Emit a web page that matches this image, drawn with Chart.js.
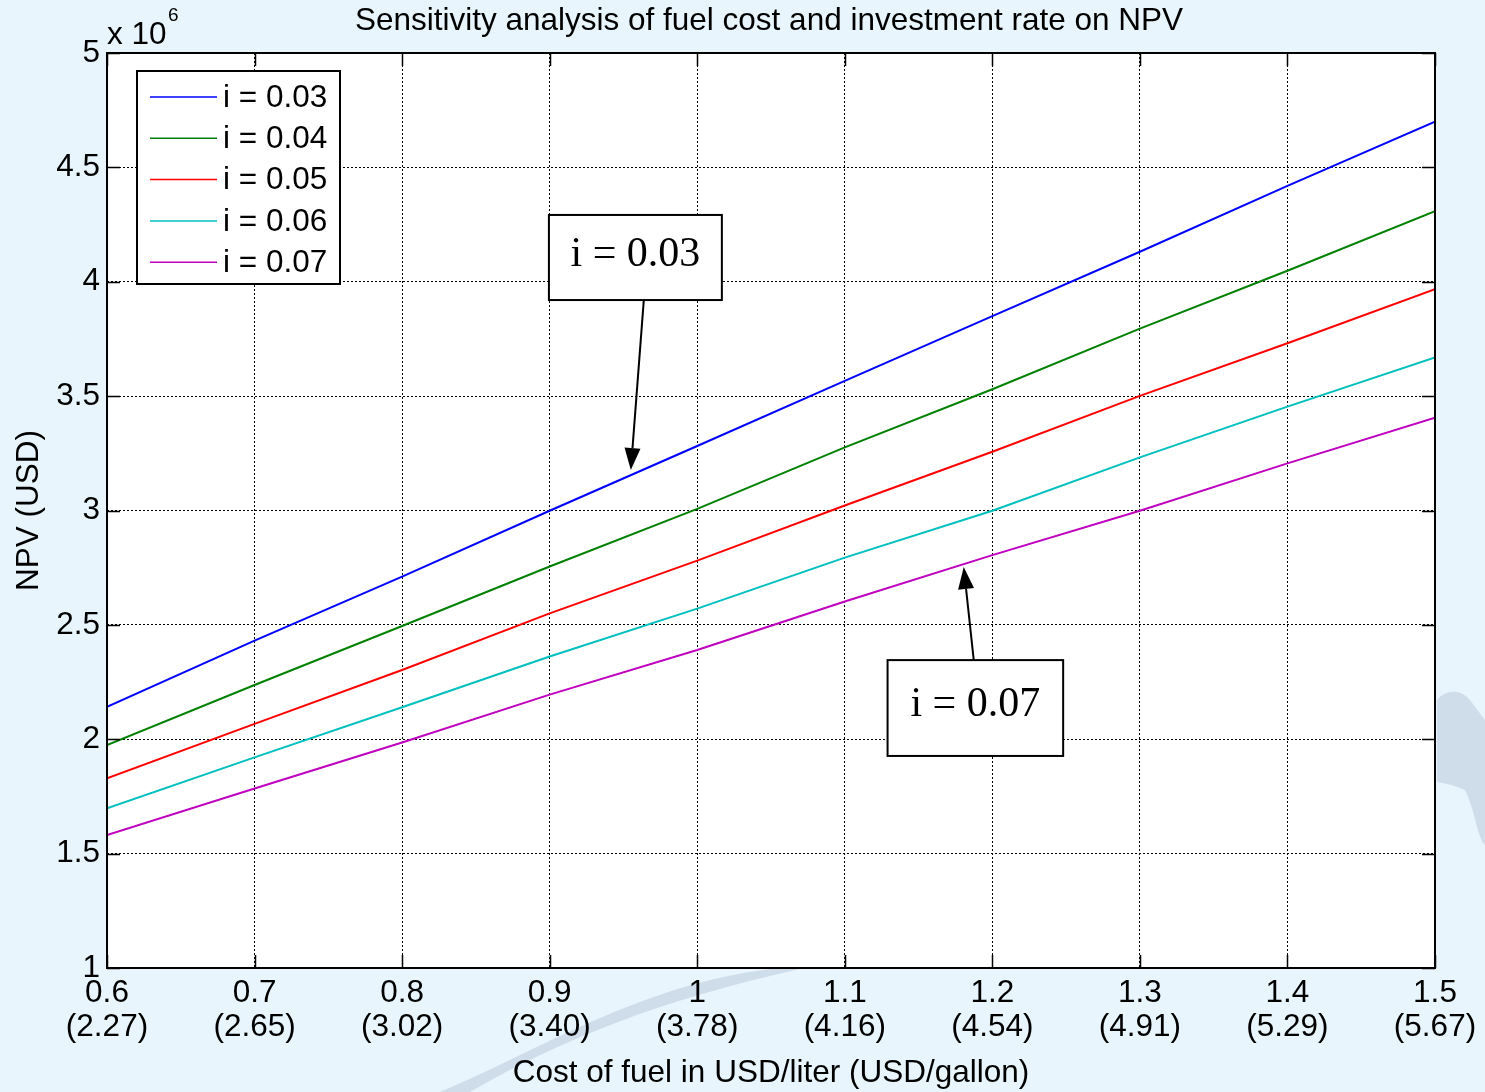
<!DOCTYPE html>
<html><head><meta charset="utf-8">
<script src="https://cdn.jsdelivr.net/npm/chart.js@4"></script>
<style>
html,body{margin:0;padding:0;background:#e9f5fd;overflow:hidden}
#wrap{width:1485px;height:1092px;position:relative}
canvas{display:block}
</style>
</head><body><div id="wrap"><canvas id="c" width="1485" height="1092"></canvas></div>
<script>
// ---- data ----
const fuelCost = [0.6, 0.7, 0.8, 0.9, 1.0, 1.1, 1.2, 1.3, 1.4, 1.5];
const literLabels = ['0.6', '0.7', '0.8', '0.9', '1', '1.1', '1.2', '1.3', '1.4', '1.5'];
const gallonLabels = ['(2.27)', '(2.65)', '(3.02)', '(3.40)', '(3.78)', '(4.16)', '(4.54)', '(4.91)', '(5.29)', '(5.67)'];
const seriesNames = ['i = 0.03', 'i = 0.04', 'i = 0.05', 'i = 0.06', 'i = 0.07'];
const npv003 = [2.142, 2.431, 2.711, 2.999, 3.282, 3.567, 3.850, 4.131, 4.419, 4.700];
const npv004 = [1.975, 2.237, 2.495, 2.755, 3.007, 3.276, 3.530, 3.795, 4.048, 4.309];
const npv005 = [1.829, 2.067, 2.303, 2.550, 2.781, 3.022, 3.257, 3.501, 3.731, 3.967];
const npv006 = [1.698, 1.921, 2.140, 2.362, 2.571, 2.794, 2.999, 3.232, 3.454, 3.669];
const npv007 = [1.581, 1.785, 1.986, 2.195, 2.390, 2.602, 2.805, 2.999, 3.206, 3.406];
const yTicks = [1, 1.5, 2, 2.5, 3, 3.5, 4, 4.5, 5];
const yTickLabels = ['1', '1.5', '2', '2.5', '3', '3.5', '4', '4.5', '5'];
// annotations (data coordinates): box x1,x2,y1,y2 ; arrow from -> to
const callout003 = {text: 'i = 0.03', box: [0.8995, 1.0167, 4.292, 3.92], from: [0.9638, 3.92], to: [0.955, 3.177]};
const callout007 = {text: 'i = 0.07', box: [1.129, 1.248, 2.346, 1.927], from: [1.1874, 2.346], to: [1.1806, 2.753]};

const colors = ['#0000ff', '#008000', '#ff0000', '#00bfbf', '#bf00bf'];
const allSeries = [npv003, npv004, npv005, npv006, npv007];

const FONT = '"Liberation Sans", Arial, sans-serif';
const FS = 31.5;

const decor = {
  id: 'decor',
  beforeDraw(chart) {
    const {ctx, chartArea: a} = chart;
    ctx.save();
    ctx.fillStyle = '#e9f5fd';
    ctx.fillRect(0, 0, chart.width, chart.height);
    // faint watermark shapes
    ctx.fillStyle = 'rgba(190,205,222,0.6)';
    ctx.beginPath();
    ctx.moveTo(1437, 700); ctx.bezierCurveTo(1445, 690, 1460, 688, 1470, 700);
    ctx.lineTo(1485, 720); ctx.lineTo(1485, 845);
    ctx.bezierCurveTo(1478, 840, 1475, 810, 1465, 790);
    ctx.lineTo(1452, 785); ctx.lineTo(1437, 782); ctx.closePath(); ctx.fill();
    ctx.beginPath();
    ctx.moveTo(470, 1092); ctx.bezierCurveTo(560, 1040, 660, 1000, 800, 969);
    ctx.lineTo(770, 969); ctx.bezierCurveTo(640, 985, 540, 1050, 440, 1092); ctx.closePath(); ctx.fill();
    ctx.fillStyle = '#ffffff';
    ctx.fillRect(a.left, a.top, a.right - a.left, a.bottom - a.top);
    ctx.restore();
  },
  afterDatasetsDraw(chart) {
    const {ctx, chartArea: a, scales: {x, y}} = chart;
    ctx.save();
    // inner tick marks
    ctx.strokeStyle = '#000'; ctx.lineWidth = 1.5;
    yTicks.forEach(v => {
      const py = Math.round(y.getPixelForValue(v)) + 0.5;
      ctx.beginPath(); ctx.moveTo(a.left, py); ctx.lineTo(a.left + 13, py);
      ctx.moveTo(a.right, py); ctx.lineTo(a.right - 13, py); ctx.stroke();
    });
    fuelCost.forEach(v => {
      const px = Math.round(x.getPixelForValue(v)) + 0.5;
      ctx.beginPath(); ctx.moveTo(px, a.bottom); ctx.lineTo(px, a.bottom - 13);
      ctx.moveTo(px, a.top); ctx.lineTo(px, a.top + 13); ctx.stroke();
    });
    // box
    ctx.lineWidth = 2;
    ctx.strokeRect(a.left, a.top, a.right - a.left, a.bottom - a.top);

    // legend
    const lx = 137, ly = 71, lw = 203, lh = 213;
    ctx.fillStyle = '#fff'; ctx.fillRect(lx, ly, lw, lh);
    ctx.strokeStyle = '#000'; ctx.lineWidth = 2; ctx.strokeRect(lx, ly, lw, lh);
    ctx.font = FS + 'px ' + FONT; ctx.textBaseline = 'middle'; ctx.textAlign = 'left';
    seriesNames.forEach((n, i) => {
      const yy = 97 + i * 41.3;
      ctx.strokeStyle = colors[i]; ctx.lineWidth = 1.5;
      ctx.beginPath(); ctx.moveTo(150, yy); ctx.lineTo(217, yy); ctx.stroke();
      ctx.fillStyle = '#000'; ctx.fillText(n, 223, yy + 1);
    });

    // callouts
    [callout003, callout007].forEach(c => {
      const x1 = x.getPixelForValue(c.box[0]), x2 = x.getPixelForValue(c.box[1]);
      const y1 = y.getPixelForValue(c.box[2]), y2 = y.getPixelForValue(c.box[3]);
      ctx.fillStyle = '#fff'; ctx.fillRect(x1, y1, x2 - x1, y2 - y1);
      ctx.strokeStyle = '#000'; ctx.lineWidth = 2; ctx.strokeRect(x1, y1, x2 - x1, y2 - y1);
      ctx.fillStyle = '#000'; ctx.font = '42px "Liberation Serif", "Times New Roman", serif';
      ctx.textAlign = 'center'; ctx.textBaseline = 'middle';
      ctx.fillText(c.text, (x1 + x2) / 2, (y1 + y2) / 2 - 3);
      const fx = x.getPixelForValue(c.from[0]), fy = y.getPixelForValue(c.from[1]);
      const tx = x.getPixelForValue(c.to[0]), ty = y.getPixelForValue(c.to[1]);
      const ang = Math.atan2(ty - fy, tx - fx);
      const hl = 22, hw = 8;
      const bx = tx - hl * Math.cos(ang), by = ty - hl * Math.sin(ang);
      ctx.lineWidth = 2;
      ctx.beginPath(); ctx.moveTo(fx, fy); ctx.lineTo(bx, by); ctx.stroke();
      ctx.beginPath(); ctx.moveTo(tx, ty);
      ctx.lineTo(bx + hw * Math.sin(ang), by - hw * Math.cos(ang));
      ctx.lineTo(bx - hw * Math.sin(ang), by + hw * Math.cos(ang));
      ctx.closePath(); ctx.fill();
    });

    // title & exponent
    ctx.fillStyle = '#000'; ctx.textAlign = 'center'; ctx.textBaseline = 'middle';
    ctx.font = FS + 'px ' + FONT;
    ctx.fillText('Sensitivity analysis of fuel cost and investment rate on NPV', (a.left + a.right) / 2 - 2, 21);
    ctx.textAlign = 'left';
    ctx.fillText('x 10', 107, 35);
    ctx.font = '19px ' + FONT;
    ctx.fillText('6', 168, 16);
    ctx.restore();
  }
};

new Chart(document.getElementById('c'), {
  type: 'line',
  data: {
    datasets: allSeries.map((s, i) => ({
      label: seriesNames[i],
      data: s.map((v, k) => ({x: fuelCost[k], y: v})),
      borderColor: colors[i],
      borderWidth: 2,
      pointRadius: 0,
      tension: 0,
      fill: false
    }))
  },
  options: {
    responsive: false,
    animation: false,
    devicePixelRatio: 1,
    layout: {padding: {top: 53, right: 50, left: 0, bottom: 0}},
    plugins: {legend: {display: false}, title: {display: false}, tooltip: {enabled: false}},
    scales: {
      x: {
        type: 'linear', min: 0.6, max: 1.5,
        afterBuildTicks(s) { s.ticks = fuelCost.map(v => ({value: v})); },
        afterFit(s) { s.height = 124; },
        ticks: {
          color: '#000', padding: 8, maxRotation: 0, autoSkip: false,
          font: {family: FONT, size: FS, lineHeight: 1.08},
          callback(v, idx) { return [literLabels[idx], gallonLabels[idx]]; }
        },
        grid: {color: '#000', lineWidth: 1, drawTicks: false},
        border: {display: false, dash: [2, 2]},
        title: {display: true, text: 'Cost of fuel in USD/liter (USD/gallon)', color: '#000',
          font: {family: FONT, size: FS}, padding: {top: 0, bottom: 0}}
      },
      y: {
        type: 'linear', min: 1, max: 5,
        afterBuildTicks(s) { s.ticks = yTicks.map(v => ({value: v})); },
        afterFit(s) { s.width = 107; },
        ticks: {color: '#000', padding: 7, font: {family: FONT, size: FS},
          callback(v, idx) { return yTickLabels[idx]; }},
        grid: {color: '#000', lineWidth: 1, drawTicks: false},
        border: {display: false, dash: [2, 2]},
        title: {display: true, text: 'NPV (USD)', color: '#000',
          font: {family: FONT, size: FS}, padding: {top: 10, bottom: 0}}
      }
    }
  },
  plugins: [decor]
});
</script>
</body></html>
